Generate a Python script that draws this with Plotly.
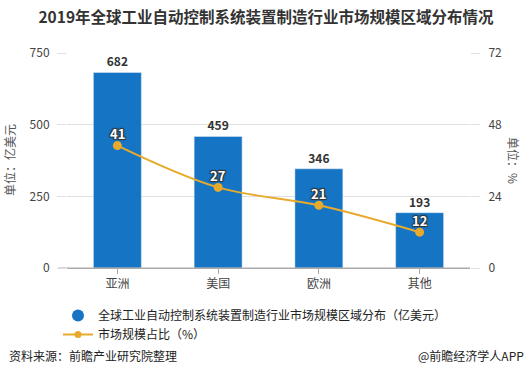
import plotly.graph_objects as go

categories = ["亚洲", "美国", "欧洲", "其他"]
market_size = [682, 459, 346, 193]
share_pct = [41, 27, 21, 12]
left_ticks = [0, 250, 500, 750]
right_ticks = [0, 24, 48, 72]

FONT = "Microsoft YaHei, Noto Sans CJK SC, sans-serif"
BAR_NAME = "全球工业自动控制系统装置制造行业市场规模区域分布（亿美元）"
LINE_NAME = "市场规模占比（%）"
BLUE = "#1574c4"
ORANGE = "#e8aa2c"

W, H = 532, 386
L, R, T, B = 67, 62, 53, 118

fig = go.Figure()
fig.add_trace(go.Bar(
    x=categories, y=market_size, name=BAR_NAME, showlegend=False,
    marker=dict(color=BLUE), width=0.476,
    text=[str(v) for v in market_size], textposition="outside",
    textfont=dict(size=12, color="#333333", family=FONT, weight="bold"),
    cliponaxis=False,
))
fig.add_trace(go.Scatter(
    x=categories, y=share_pct, name=LINE_NAME, yaxis="y2", showlegend=False,
    mode="lines+markers", line=dict(color=ORANGE, width=2, shape="spline"),
    marker=dict(size=9, color=ORANGE),
    cliponaxis=False,
))
# legend entries
fig.add_trace(go.Scatter(
    x=[None], y=[None], name=BAR_NAME, mode="markers",
    marker=dict(symbol="circle", size=12, color=BLUE), showlegend=True,
))
fig.add_trace(go.Scatter(
    x=[None], y=[None], name=LINE_NAME, mode="lines+markers",
    line=dict(color=ORANGE, width=2), marker=dict(size=7, color=ORANGE), showlegend=True,
))

def px_x(p):
    return (p - L) / (W - L - R)

def px_y(p):
    return (H - B - p) / (H - T - B)

line_labels = [
    dict(x=c, y=v, xref="x", yref="y2", text=str(v), showarrow=False, yshift=12,
         font=dict(size=13, color="white", family=FONT, weight="bold",
                   shadow="1px 1px 1px #333, -1px -1px 1px #333, 1px -1px 1px #333, -1px 1px 1px #333"))
    for c, v in zip(categories, share_pct)
]

fig.update_layout(
    width=W, height=H,
    margin=dict(l=L, r=R, t=T, b=B, autoexpand=False),
    paper_bgcolor="white", plot_bgcolor="white",
    font=dict(family=FONT, size=12, color="#444444"),
    title=dict(text="<b>2019年全球工业自动控制系统装置制造行业市场规模区域分布情况</b>",
               x=0.5, xanchor="center", y=1 - 18 / H, yanchor="middle",
               font=dict(size=15.5, color="#333333")),
    showlegend=True,
    legend=dict(x=px_x(58), xanchor="left", y=px_y(301), yanchor="top", orientation="v",
                font=dict(size=12, color="#222222", family=FONT),
                itemwidth=30, tracegroupgap=0, bgcolor="rgba(0,0,0,0)"),
    xaxis=dict(showline=True, linecolor="#aaaaaa", ticks="outside", tickcolor="#aaaaaa",
               ticklen=5, showgrid=False, tickfont=dict(size=12, color="#444444")),
    yaxis=dict(range=[0, 750], tickvals=left_ticks, showgrid=True, gridcolor="#e0e0e0",
               zeroline=False, showline=False, ticks="outside", ticklen=9, tickcolor="#e0e0e0",
               ticklabelstandoff=5, tickfont=dict(size=12, color="#444444")),
    yaxis2=dict(range=[0, 72], tickvals=right_ticks, overlaying="y", side="right",
                showgrid=False, zeroline=False, showline=False, ticks="outside", ticklen=9,
                tickcolor="#e0e0e0", ticklabelstandoff=6,
                tickfont=dict(size=12, color="#444444")),
    shapes=[dict(type="line", xref="paper", yref="y", x0=px_x(58), x1=1.0, y0=0, y1=0,
                 line=dict(color="#aaaaaa", width=1), layer="above")],
    annotations=line_labels + [
        dict(text="单位：亿美元", x=px_x(9), y=px_y(160), xref="paper", yref="paper",
             xanchor="center", yanchor="middle",
             showarrow=False, textangle=-90, font=dict(size=12, color="#555555")),
        dict(text="单位：%", x=px_x(514), y=px_y(160), xref="paper", yref="paper",
             xanchor="center", yanchor="middle",
             showarrow=False, textangle=90, font=dict(size=12, color="#555555")),
        dict(text="资料来源：前瞻产业研究院整理", x=px_x(7), y=px_y(366), xref="paper",
             yref="paper", showarrow=False, xanchor="left",
             font=dict(size=12, color="#222222")),
        dict(text="@前瞻经济学人APP", x=px_x(526), y=px_y(366), xref="paper", yref="paper",
             showarrow=False, xanchor="right", font=dict(size=12, color="#222222")),
    ],
)

fig.write_html("out.html", post_script="document.body.style.margin='0';",
               config={"displayModeBar": False})
